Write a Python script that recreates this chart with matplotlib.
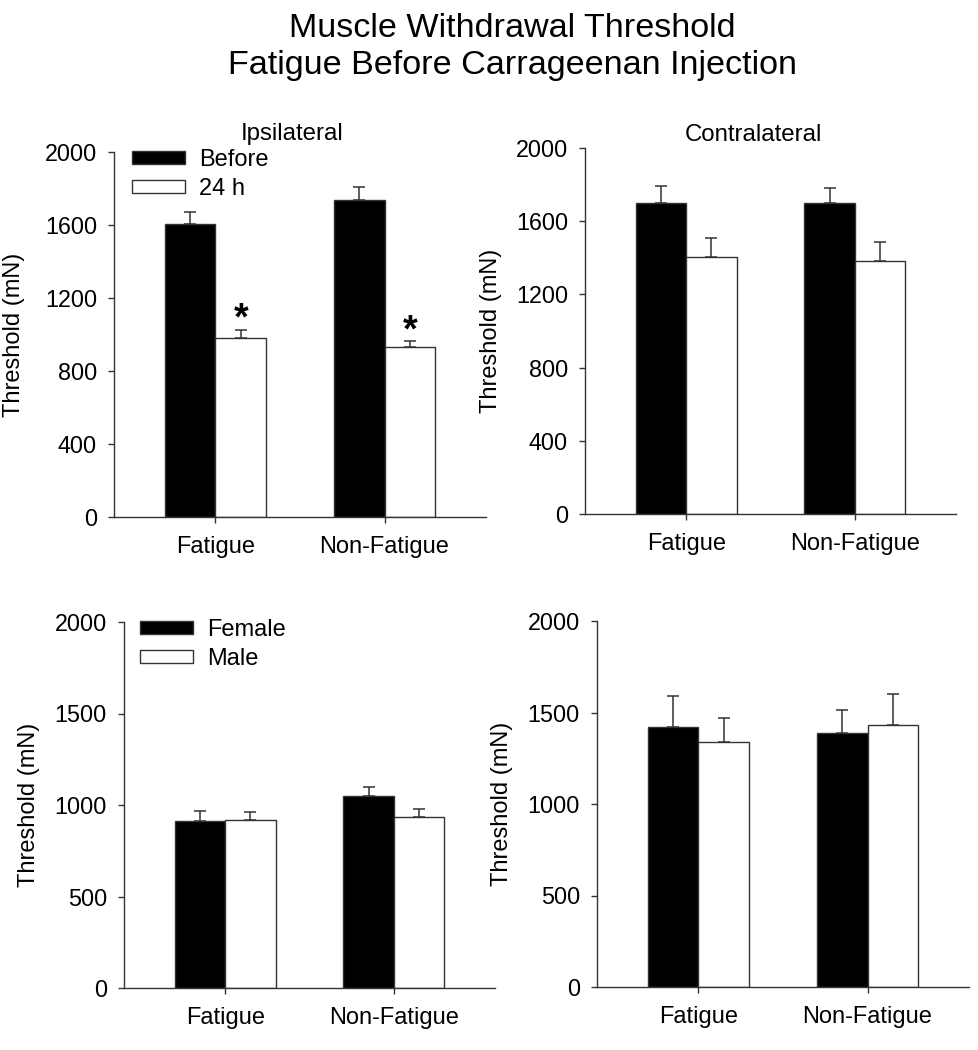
import matplotlib
matplotlib.use("Agg")
import matplotlib.pyplot as plt
import numpy as np

plt.rcParams['font.family'] = ['Liberation Sans', 'DejaVu Sans']

# data (mN), means and upper SEM
groups = ["Fatigue", "Non-Fatigue"]

ipsi_before = [1605, 1735]
ipsi_before_err = [65, 73]
ipsi_24h = [980, 930]
ipsi_24h_err = [45, 32]

contra_before = [1700, 1700]
contra_before_err = [90, 82]
contra_24h = [1403, 1385]
contra_24h_err = [103, 100]

ipsi_female = [912, 1047]
ipsi_female_err = [57, 51]
ipsi_male = [920, 936]
ipsi_male_err = [40, 42]

contra_female = [1421, 1386]
contra_female_err = [171, 128]
contra_male = [1339, 1433]
contra_male_err = [129, 167]

# significant vs before (only ipsilateral 24 h)
ipsi_sig = [True, True]

W, H = 979, 1050
edge = '#333333'
fs = 17

fig = plt.figure(figsize=(W / 100, H / 100), dpi=100)

def px_axes(l, r, t, b):
    # pixel box -> figure fraction
    return fig.add_axes([l / W, 1 - b / H, (r - l) / W, (b - t) / H])

def bar_panel(ax, a, a_err, b, b_err, yticks, labels=None, sig=None, leg_x=0.045):
    x = np.arange(len(groups))
    w = 0.3
    ax.bar(x - w / 2, a, w, color='black', edgecolor=edge, linewidth=1, label=labels[0] if labels else None, zorder=2)
    ax.bar(x + w / 2, b, w, color='white', edgecolor=edge, linewidth=1, label=labels[1] if labels else None, zorder=2)
    ax.errorbar(x - w / 2, a, yerr=[np.zeros(len(a)), a_err], fmt='none', ecolor=edge,
                elinewidth=1.1, capsize=4.3, capthick=1.1, zorder=3)
    ax.errorbar(x + w / 2, b, yerr=[np.zeros(len(b)), b_err], fmt='none', ecolor=edge,
                elinewidth=1.1, capsize=4.3, capthick=1.1, zorder=3)
    if sig:
        for i, s in enumerate(sig):
            if s:
                ax.text(x[i] + w / 2, b[i] + b_err[i], '*', ha='center', va='baseline',
                        fontsize=27, fontweight='bold')
    ax.set_xlim(-0.6, 1.6)
    ax.set_ylim(0, 2000)
    ax.set_yticks(yticks)
    ax.set_xticks(x)
    ax.set_xticklabels(groups)
    for s in ['top', 'right']:
        ax.spines[s].set_visible(False)
    for s in ['left', 'bottom']:
        ax.spines[s].set_color(edge)
        ax.spines[s].set_linewidth(1)
    ax.tick_params(axis='y', length=4.3, width=1, color=edge, pad=8, labelsize=16.8)
    ax.tick_params(axis='x', length=4, width=1, color=edge, pad=9.5, labelsize=fs)
    ax.set_ylabel("Threshold (mN)", fontsize=fs)
    if labels:
        ax.legend(loc='upper left', bbox_to_anchor=(leg_x, 1.008), frameon=False, fontsize=fs,
                  borderpad=0, borderaxespad=0, handlelength=2.26, handleheight=0.45,
                  handletextpad=0.59, labelspacing=0.3)

ax1 = px_axes(114, 486, 152, 517)
bar_panel(ax1, ipsi_before, ipsi_before_err, ipsi_24h, ipsi_24h_err,
          np.arange(0, 2001, 400), labels=["Before", "24 h"], sig=ipsi_sig, leg_x=0.048)
ax1.yaxis.set_label_coords(-0.239, 0.5)
ax1.text(0.478, 1.033, "Ipsilateral", transform=ax1.transAxes, ha='center', va='baseline', fontsize=17.3)

ax2 = px_axes(585, 956, 148, 514)
bar_panel(ax2, contra_before, contra_before_err, contra_24h, contra_24h_err,
          np.arange(0, 2001, 400))
ax2.yaxis.set_label_coords(-0.224, 0.5)
ax2.text(0.455, 1.018, "Contralateral", transform=ax2.transAxes, ha='center', va='baseline', fontsize=17.3)

ax3 = px_axes(124, 495, 622, 988)
bar_panel(ax3, ipsi_female, ipsi_female_err, ipsi_male, ipsi_male_err,
          np.arange(0, 2001, 500), labels=["Female", "Male"], leg_x=0.043)
ax3.yaxis.set_label_coords(-0.227, 0.5)

ax4 = px_axes(597, 969, 621, 987)
bar_panel(ax4, contra_female, contra_female_err, contra_male, contra_male_err,
          np.arange(0, 2001, 500))
ax4.yaxis.set_label_coords(-0.226, 0.5)

fig.text(0.523, 1 - 37 / H, "Muscle Withdrawal Threshold", ha='center', va='baseline', fontsize=24.6)
fig.text(0.523, 1 - 74 / H, "Fatigue Before Carrageenan Injection", ha='center', va='baseline', fontsize=24.6)

fig.savefig("out.png", dpi=100)
